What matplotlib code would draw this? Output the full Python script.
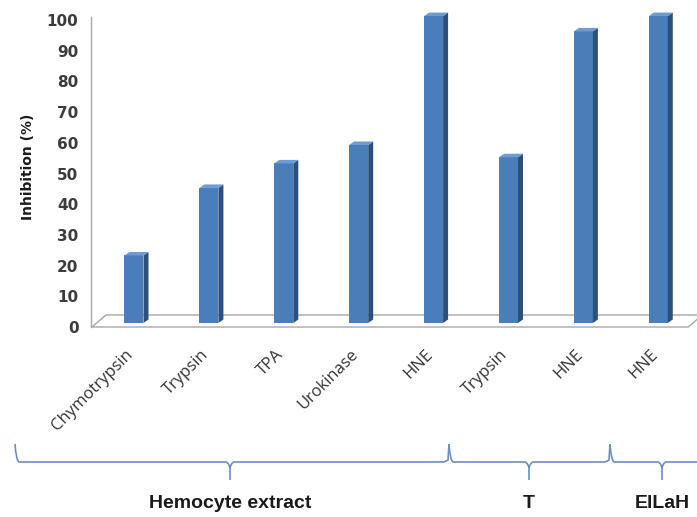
import numpy as np
import matplotlib
matplotlib.use("Agg")
import matplotlib.pyplot as plt
from matplotlib.patches import Polygon, Rectangle
from matplotlib.path import Path
from matplotlib.patches import PathPatch

# inhibition per enzyme, three sample groups
enzymes = ["Chymotrypsin", "Trypsin", "TPA", "Urokinase", "HNE", "Trypsin", "HNE", "HNE"]
inhibition = [22, 44, 52, 58, 100, 54, 95, 100]
groups = ["Hemocyte extract", "T", "ElLaH"]
yticks = [0, 10, 20, 30, 40, 50, 60, 70, 80, 90, 100]

W, H = 697, 517
fig = plt.figure(figsize=(W / 100, H / 100), dpi=100)

# main axes placed in pixels: left edge 91, y=0 at 327, y=101 at 17
ax = fig.add_axes([91 / W, (H - 327) / H, 606 / W, 310 / H])
x0, x1 = -0.574, 7.517
ax.set_xlim(x0, x1)
ax.set_ylim(0, 101)
ux = 606 / (x1 - x0)     # px per category
uy = 310 / 101           # px per percent

front_c = "#4a7ebb"
side_c = "#2c4f7c"
top_c = "#6f9bd3"
bw = 19 / ux             # bar face width
ddx, ddy = 5 / ux, 3.5 / uy   # bar depth
base = 4 / uy            # bars stand a bit behind the floor front edge

# floor
fdx, fdy = 14 / ux, 12 / uy
fl, fr = x0 + 1 / ux, 7.40
floor = Polygon([(fl, 0), (fr, 0), (fr + fdx, fdy), (fl + fdx, fdy)], closed=True,
                facecolor="white", edgecolor="#a6a6a6", lw=1.0, clip_on=False, zorder=1)
ax.add_patch(floor)

for i, v in enumerate(inhibition):
    l, r = i - bw / 2, i + bw / 2
    ax.add_patch(Rectangle((l, base), bw, v, facecolor=front_c, edgecolor="none",
                           clip_on=False, zorder=3))
    ax.add_patch(Polygon([(r, base), (r + ddx, base + ddy), (r + ddx, base + v + ddy), (r, base + v)],
                         closed=True, facecolor=side_c, edgecolor="none", clip_on=False, zorder=3))
    ax.add_patch(Polygon([(l, base + v), (r, base + v), (r + ddx, base + v + ddy), (l + ddx, base + v + ddy)],
                         closed=True, facecolor=top_c, edgecolor="none", clip_on=False, zorder=3))

for s in ["top", "right", "bottom"]:
    ax.spines[s].set_visible(False)
ax.spines["left"].set_color("#a6a6a6")
ax.spines["left"].set_linewidth(1.0)
ax.set_yticks(yticks)
ax.set_yticklabels([str(t) for t in yticks])
ax.tick_params(axis="y", length=0, pad=9, labelsize=11, labelcolor="#3c3c3c")
for lab in ax.get_yticklabels():
    lab.set_fontweight("semibold")
ax.set_xticks([])
ax.patch.set_alpha(0)

# category labels, rotated 45 deg, right end under each bar
for i, name in enumerate(enzymes):
    ax.annotate(name, xy=(i, 0), xytext=(-3, -25), textcoords="offset pixels",
                rotation=45, rotation_mode="anchor", ha="right", va="center",
                fontsize=12, family="Open Sans", color="#333333", annotation_clip=False)

fig.text(28 / W, 1 - 167 / H, "Inhibition (%)", rotation=90, ha="center", va="center",
         fontsize=10, fontweight="bold", color="#1a1a1a")

# curly braces under the groups, in figure pixels
ov = fig.add_axes([0, 0, 1, 1])
ov.set_xlim(0, W)
ov.set_ylim(H, 0)
ov.axis("off")
brace_c = "#6b8fc0"
line_y, top_y, tip_y = 462, 444, 480
bounds = [15, 449, 610, 715]
centers = [230, 529, 662]
for k in range(3):
    a, b = bounds[k], bounds[k + 1]
    m = centers[k]
    verts = [(a, top_y), (a + 1, line_y - 2), (a + 4, line_y), (a + 6, line_y),
             (m - 4, line_y), (m - 1, line_y + 1), (m, line_y + 6),
             (m, tip_y), (m, line_y + 6), (m + 1, line_y + 1), (m + 4, line_y),
             (b - 6, line_y), (b - 4, line_y), (b - 1, line_y - 2), (b, top_y)]
    codes = [Path.MOVETO, Path.CURVE3, Path.CURVE3, Path.LINETO,
             Path.LINETO, Path.CURVE3, Path.CURVE3,
             Path.LINETO, Path.MOVETO, Path.CURVE3, Path.CURVE3,
             Path.LINETO, Path.CURVE3, Path.CURVE3, Path.LINETO]
    ov.add_patch(PathPatch(Path(verts, codes), facecolor="none", edgecolor=brace_c, lw=1.2))
    ov.text(m, 503, groups[k], ha="center", va="center", fontsize=14,
            fontweight="bold", family="Liberation Sans", color="#1a1a1a")

fig.savefig("out.png", dpi=100)
